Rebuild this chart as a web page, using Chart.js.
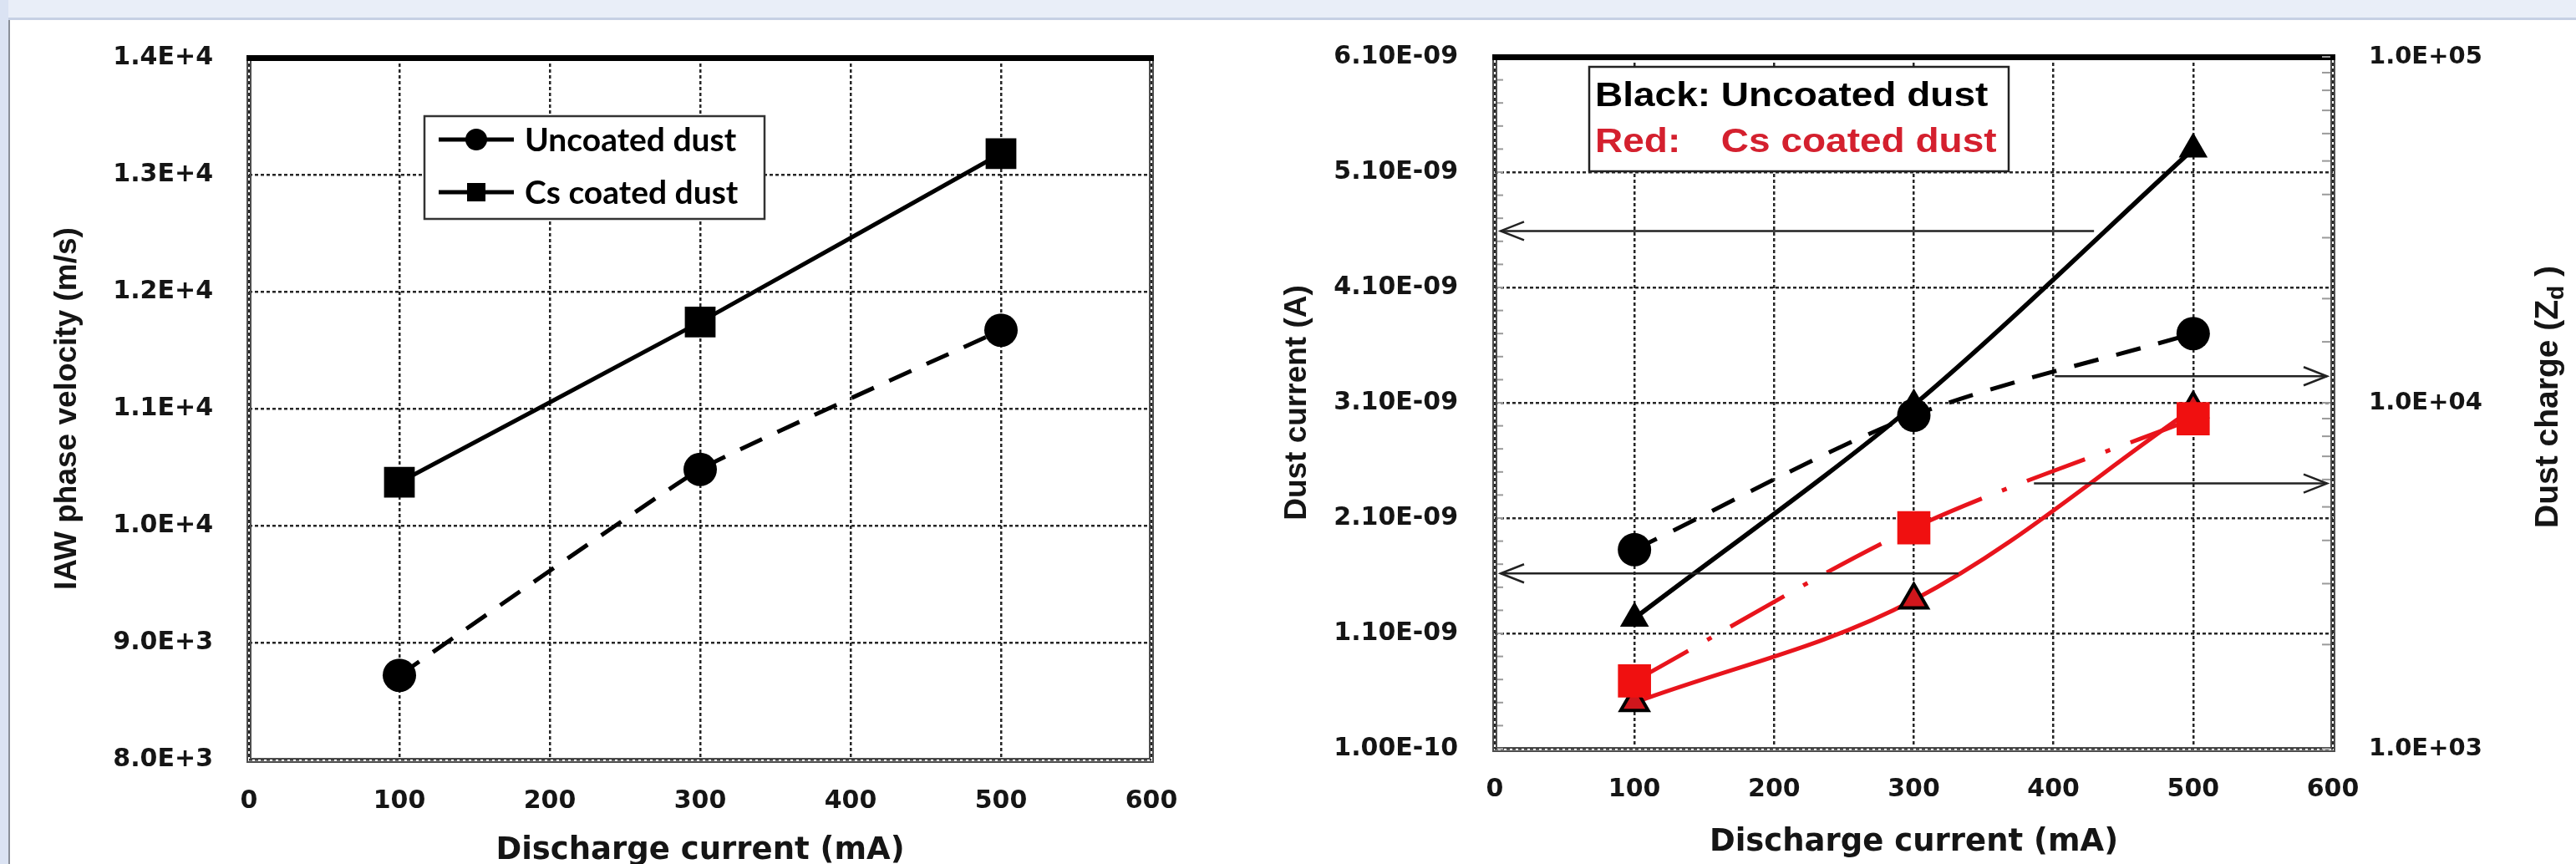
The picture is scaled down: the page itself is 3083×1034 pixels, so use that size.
<!DOCTYPE html>
<html>
<head>
<meta charset="utf-8">
<script src="https://cdn.jsdelivr.net/npm/chart.js@4.4.1/dist/chart.umd.min.js"></script>
<style>
  html, body { margin: 0; padding: 0; background: #fff; overflow: hidden; }
  #page { position: relative; width: 3083px; height: 1034px; overflow: hidden; background: #fff; }
  #topbar { position: absolute; left: 0; top: 0; width: 3083px; height: 21px; background: #e9eef8; }
  #topline { position: absolute; left: 0; top: 21px; width: 3083px; height: 3px; background: #c6d0e4; }
  #leftbar { position: absolute; left: 0; top: 0; width: 10px; height: 1034px; background: #dbe3f3; }
  #leftline { position: absolute; left: 10px; top: 24px; width: 2px; height: 1010px; background: #8a8f99; }
  canvas { position: absolute; top: 0; }
  #c1 { left: 0; }
  #c2 { left: 1450px; }
</style>
</head>
<body>
<div id="page">
  <div id="topbar"></div>
  <div id="topline"></div>
  <div id="leftbar"></div>
  <div id="leftline"></div>
  <canvas id="c1" width="1450" height="1060"></canvas>
  <canvas id="c2" width="1633" height="1060"></canvas>
</div>
<script>
// discharge current (mA), same for both panels
const current = [100, 300, 500];

// left panel: IAW phase velocity (m/s)
const velUncoated = [8720, 10480, 11670];
const velCoated = [10370, 11740, 13180];
const velTicks = ['8.0E+3', '9.0E+3', '1.0E+4', '1.1E+4', '1.2E+4', '1.3E+4', '1.4E+4'];

// right panel: dust current (A) and dust charge (Zd)
const curUncoated = [1.23e-9, 3.08e-9, 5.30e-9];
const curCoated = [0.50e-9, 1.39e-9, 3.05e-9];
const chgUncoated = [3760, 9200, 15850];
const chgCoated = [1570, 4350, 8990];
const curTicks = ['1.00E-10', '1.10E-09', '2.10E-09', '3.10E-09', '4.10E-09', '5.10E-09', '6.10E-09'];

// arrows telling which curve belongs to which axis (x in mA, y in A)
const arrows = [
  { from: 429, to: 0, y: 4.59e-9 },
  { from: 332, to: 0, y: 1.62e-9 },
  { from: 401, to: 600, y: 3.33e-9 },
  { from: 386, to: 600, y: 2.40e-9 },
];

const pts = (ys) => current.map((x, i) => ({ x: x, y: ys[i] }));

Chart.defaults.font.family = 'DejaVu Sans';
Chart.defaults.color = '#151515';
Chart.defaults.animation = false;
Chart.defaults.plugins.legend.display = false;
Chart.defaults.plugins.tooltip.enabled = false;

const RED = '#e8141c';

// plot frame: double grey line with a heavy black top
const framePlugin = {
  id: 'frame',
  beforeDatasetsDraw(chart) {
    const { ctx, chartArea: a } = chart;
    ctx.save();
    ctx.strokeStyle = '#4d4d4d';
    ctx.lineWidth = 2;
    ctx.strokeRect(a.left - 2, a.top, a.right - a.left + 4, a.bottom - a.top + 3);
    ctx.strokeRect(a.left + 2, a.top, a.right - a.left - 4, a.bottom - a.top - 1);
    ctx.fillStyle = '#000';
    ctx.fillRect(a.left - 3, a.top - 3, a.right - a.left + 6, 7);
    ctx.restore();
  }
};

// legend box with line + marker samples (left panel)
const sampleLegend = {
  id: 'sampleLegend',
  afterDraw(chart) {
    const { ctx, chartArea: a } = chart;
    const bx = a.left + 210, by = a.top + 70, bw = 407, bh = 123;
    ctx.save();
    ctx.fillStyle = '#fff';
    ctx.fillRect(bx, by, bw, bh);
    ctx.strokeStyle = '#333';
    ctx.lineWidth = 2.5;
    ctx.strokeRect(bx, by, bw, bh);
    chart.data.datasets.forEach((ds, i) => {
      const cy = by + 28 + i * 63;
      ctx.strokeStyle = '#000';
      ctx.lineWidth = 5;
      ctx.beginPath();
      ctx.moveTo(bx + 17, cy);
      ctx.lineTo(bx + 107, cy);
      ctx.stroke();
      ctx.fillStyle = '#000';
      if (ds.pointStyle === 'circle') {
        ctx.beginPath();
        ctx.arc(bx + 62, cy, 13, 0, Math.PI * 2);
        ctx.fill();
      } else {
        ctx.fillRect(bx + 51, cy - 11, 22, 22);
      }
      ctx.font = 'bold 39px Lato';
      ctx.textBaseline = 'middle';
      ctx.fillText(ds.label, bx + 120, cy + 1);
    });
    ctx.restore();
  }
};

// text-only legend box (right panel)
const colourLegend = {
  id: 'colourLegend',
  afterDraw(chart) {
    const { ctx, chartArea: a } = chart;
    const bx = a.left + 113, by = a.top + 12, bw = 502, bh = 125;
    ctx.save();
    ctx.fillStyle = '#fff';
    ctx.fillRect(bx, by, bw, bh);
    ctx.strokeStyle = '#222';
    ctx.lineWidth = 2.5;
    ctx.strokeRect(bx, by, bw, bh);
    ctx.translate(bx + 7, by);
    ctx.scale(1.15, 1);
    ctx.font = 'bold 40px "Liberation Sans"';
    ctx.textBaseline = 'middle';
    const x1 = ctx.measureText('Black: ').width;
    ctx.fillStyle = '#000';
    ctx.fillText('Black:', 0, 36);
    ctx.fillText('Uncoated dust', x1, 36);
    ctx.fillStyle = '#d4202e';
    ctx.fillText('Red:', 0, 91);
    ctx.fillText('Cs coated dust', x1, 91);
    ctx.restore();
  }
};

// arrows pointing to the axis a curve is read on
const arrowPlugin = {
  id: 'arrows',
  afterDatasetsDraw(chart) {
    const { ctx, scales } = chart;
    ctx.save();
    ctx.strokeStyle = '#222';
    ctx.lineWidth = 2.5;
    arrows.forEach((ar) => {
      const x1 = scales.x.getPixelForValue(ar.from);
      const dir = ar.to > ar.from ? 1 : -1;
      const x2 = scales.x.getPixelForValue(ar.to) - dir * 7;
      const py = scales.y.getPixelForValue(ar.y);
      ctx.beginPath();
      ctx.moveTo(x1, py);
      ctx.lineTo(x2, py);
      ctx.stroke();
      ctx.beginPath();
      ctx.moveTo(x2 - dir * 28, py - 11);
      ctx.lineTo(x2, py);
      ctx.lineTo(x2 - dir * 28, py + 11);
      ctx.stroke();
    });
    ctx.restore();
  }
};

// small inner ticks on both y axes of the right panel, plus the Zd title
const innerTicks = {
  id: 'innerTicks',
  afterDraw(chart) {
    const { ctx, scales, chartArea: a } = chart;
    ctx.save();
    ctx.strokeStyle = '#9a9a9a';
    ctx.lineWidth = 2;
    for (let v = 1.0e-10; v < 6.1e-9; v += 0.2e-9) {
      const py = scales.y.getPixelForValue(v);
      ctx.beginPath();
      ctx.moveTo(a.left + 3, py);
      ctx.lineTo(a.left + 10, py);
      ctx.stroke();
    }
    scales.y2.ticks.forEach((t) => {
      const py = scales.y2.getPixelForValue(t.value);
      ctx.beginPath();
      ctx.moveTo(a.right - 3, py);
      ctx.lineTo(a.right - 13, py);
      ctx.stroke();
    });
    // right axis title with subscript, reading bottom to top
    ctx.translate(1600, 475);
    ctx.rotate(-Math.PI / 2);
    ctx.fillStyle = '#151515';
    ctx.textBaseline = 'middle';
    ctx.font = 'bold 39px "Liberation Sans"';
    const main = 'Dust charge (Z';
    const wMain = ctx.measureText(main).width;
    ctx.font = 'bold 28px "Liberation Sans"';
    const wSub = ctx.measureText('d').width;
    ctx.font = 'bold 39px "Liberation Sans"';
    const wEnd = ctx.measureText(' )').width;
    let sx = -(wMain + wSub + wEnd) / 2;
    ctx.fillText(main, sx, 0);
    sx += wMain;
    ctx.font = 'bold 28px "Liberation Sans"';
    ctx.fillText('d', sx, 10);
    sx += wSub;
    ctx.font = 'bold 39px "Liberation Sans"';
    ctx.fillText(' )', sx, 0);
    ctx.restore();
  }
};

const gridStyle = { color: '#262626', lineWidth: 2.5, drawTicks: false };
const gridBorder = { display: false, dash: [4, 3] };

// ---- left panel
new Chart(document.getElementById('c1').getContext('2d'), {
  type: 'line',
  data: {
    datasets: [
      {
        label: 'Uncoated dust',
        data: pts(velUncoated),
        borderColor: '#000',
        backgroundColor: '#000',
        borderWidth: 5,
        borderDash: [29, 20],
        tension: 0.12,
        pointStyle: 'circle',
        pointRadius: 20,
        pointBorderWidth: 0,
      },
      {
        label: 'Cs coated dust',
        data: pts(velCoated),
        borderColor: '#000',
        backgroundColor: '#000',
        borderWidth: 5,
        tension: 0.1,
        pointStyle: 'rect',
        pointRadius: 26,
        pointBorderWidth: 0,
      },
    ],
  },
  options: {
    responsive: false,
    layout: { padding: { left: 0, top: 69, right: 72, bottom: 0 } },
    scales: {
      x: {
        type: 'linear',
        min: 0,
        max: 600,
        ticks: { stepSize: 100, padding: 32, font: { size: 30, weight: 'bold' } },
        grid: gridStyle,
        border: gridBorder,
        title: {
          display: true,
          text: 'Discharge current (mA)',
          font: { size: 37, weight: 'bold' },
          padding: { top: 0, bottom: 19 },
        },
        afterFit(s) { s.height = 151; },
      },
      y: {
        min: 8000,
        max: 14000,
        ticks: {
          stepSize: 1000,
          padding: 43,
          font: { size: 30, weight: 'bold' },
          callback: (v, i) => velTicks[i],
        },
        grid: gridStyle,
        border: gridBorder,
        title: {
          display: true,
          text: 'IAW phase velocity (m/s)',
          font: { family: 'Liberation Sans', size: 37, weight: 'bold' },
          padding: { top: 59, bottom: 0 },
        },
        afterFit(s) { s.width = 298; },
      },
    },
  },
  plugins: [framePlugin, sampleLegend],
});

// ---- right panel
new Chart(document.getElementById('c2').getContext('2d'), {
  type: 'line',
  data: {
    datasets: [
      {
        label: 'Cs coated dust charge',
        yAxisID: 'y2',
        data: pts(chgCoated),
        borderColor: RED,
        backgroundColor: '#f01010',
        borderWidth: 5,
        borderDash: [74, 26, 6, 26],
        tension: 0.3,
        pointStyle: 'rect',
        pointRadius: 28,
        pointBorderWidth: 0,
      },
      {
        label: 'Uncoated dust charge',
        yAxisID: 'y2',
        data: pts(chgUncoated),
        borderColor: '#000',
        backgroundColor: '#000',
        borderWidth: 5,
        borderDash: [30, 22],
        tension: 0.3,
        pointStyle: 'circle',
        pointRadius: 20,
        pointBorderWidth: 0,
      },
      {
        label: 'Cs coated dust current',
        yAxisID: 'y',
        data: pts(curCoated),
        borderColor: RED,
        backgroundColor: '#d0161c',
        borderWidth: 5,
        tension: 0.35,
        pointStyle: 'triangle',
        pointRadius: 19,
        pointBorderWidth: 4,
        pointBorderColor: '#000',
      },
      {
        label: 'Uncoated dust current',
        yAxisID: 'y',
        data: pts(curUncoated),
        borderColor: '#000',
        backgroundColor: '#000',
        borderWidth: 5.5,
        tension: 0.3,
        pointStyle: 'triangle',
        pointRadius: 20,
        pointBorderWidth: 0,
      },
    ],
  },
  options: {
    responsive: false,
    layout: { padding: { left: 0, top: 68, right: 0, bottom: 0 } },
    scales: {
      x: {
        type: 'linear',
        min: 0,
        max: 600,
        ticks: { stepSize: 100, padding: 31, font: { size: 30, weight: 'bold' } },
        grid: gridStyle,
        border: gridBorder,
        title: {
          display: true,
          text: 'Discharge current (mA)',
          font: { size: 37, weight: 'bold' },
          padding: { top: 0, bottom: 29 },
        },
        afterFit(s) { s.height = 164; },
      },
      y: {
        min: 1.0e-10,
        max: 6.1e-9,
        ticks: {
          stepSize: 1e-9,
          padding: 44,
          font: { size: 30, weight: 'bold' },
          callback: (v, i) => curTicks[i],
        },
        grid: gridStyle,
        border: gridBorder,
        title: {
          display: true,
          text: 'Dust current (A)',
          font: { family: 'Liberation Sans', size: 37, weight: 'bold' },
          padding: { top: 81, bottom: 0 },
        },
        afterFit(s) { s.width = 339; },
      },
      y2: {
        type: 'logarithmic',
        position: 'right',
        min: 1000,
        max: 100000,
        ticks: {
          autoSkip: false,
          padding: 43,
          font: { size: 29, weight: 'bold' },
          callback: (v) => {
            const e = Math.log10(v);
            return Math.abs(e - Math.round(e)) < 1e-9 ? '1.0E+' + String(Math.round(e)).padStart(2, '0') : '';
          },
        },
        grid: { drawOnChartArea: false, drawTicks: false },
        border: { display: false },
        afterFit(s) { s.width = 291; },
      },
    },
  },
  plugins: [framePlugin, arrowPlugin, colourLegend, innerTicks],
});
</script>
</body>
</html>
